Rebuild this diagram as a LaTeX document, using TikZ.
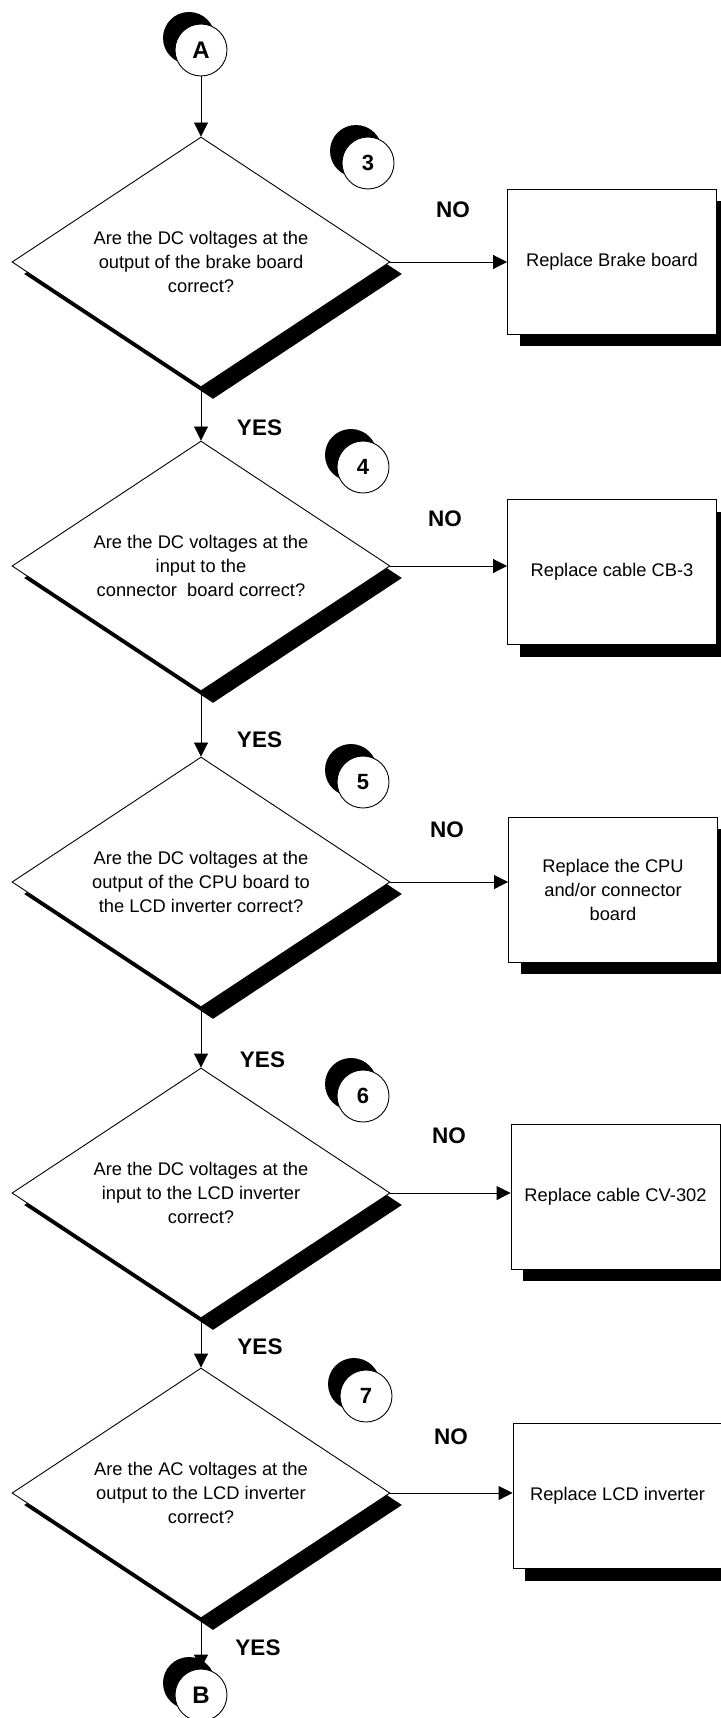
\documentclass[tikz,border=0pt]{standalone}
\usepackage{fontspec}
\setmainfont{Liberation Sans}
\usetikzlibrary{arrows.meta,shapes.geometric,shadows}

\begin{document}
\begin{tikzpicture}[
    x=1pt, y=-1pt,
    >={Triangle[length=14pt,width=14pt]},
    line width=0.9pt,
    font=\fontsize{18.3}{24}\selectfont,
    sombra/.style={drop shadow={shadow xshift=12pt, shadow yshift=-12pt,
                                fill=black, opacity=1}},
    decisao/.style={draw, shape=diamond, aspect=1.5, inner sep=0pt,
                    minimum width=378pt, minimum height=250pt,
                    align=center, fill=white, sombra},
    acao/.style={draw, rectangle, fill=white, align=center,
                 minimum width=209pt, minimum height=145pt, sombra},
    passo/.style={draw, circle, fill=white, inner sep=0pt, minimum size=52pt,
                  font=\fontsize{22}{22}\selectfont\bfseries,
                  drop shadow={shadow xshift=-12pt, shadow yshift=12pt,
                               fill=black, opacity=1}},
    conector/.style={passo, font=\fontsize{24}{24}\selectfont\bfseries},
    rotulo/.style={font=\fontsize{22.5}{22.5}\selectfont\bfseries}
  ]
  \useasboundingbox (0,0) rectangle (720,1718);

  % ── conectores de entrada e saída ───────────────────────────────
  \node[conector] (A) at (201, 50)   {A};
  \node[conector] (B) at (201, 1695) {B};

  % ── decisões ────────────────────────────────────────────────────
  \node[decisao] (D1) at (201, 262)
    {Are the DC voltages at the\\output of the brake board\\correct?};
  \node[decisao] (D2) at (201, 566)
    {Are the DC voltages at the\\input to the\\connector\ \ board correct?};
  \node[decisao] (D3) at (201, 882)
    {Are the DC voltages at the\\output of the CPU board to\\the LCD inverter correct?};
  \node[decisao] (D4) at (201, 1193)
    {Are the DC voltages at the\\input to the LCD inverter\\correct?};
  \node[decisao] (D5) at (201, 1493)
    {Are the AC voltages at the\\output to the LCD inverter\\correct?};

  % ── números dos passos ──────────────────────────────────────────
  \node[passo] (P3) at (368, 163)  {3};
  \node[passo] (P4) at (363, 467)  {4};
  \node[passo] (P5) at (363, 782)  {5};
  \node[passo] (P6) at (363, 1096) {6};
  \node[passo] (P7) at (366, 1396) {7};

  % ── ações de substituição ───────────────────────────────────────
  \node[acao] (R1) at (612, 261.5)   {Replace Brake board};
  \node[acao] (R2) at (612, 572)     {Replace cable CB-3};
  \node[acao] (R3) at (613, 889.5)   {Replace the CPU\\and/or connector\\board};
  \node[acao] (R4) at (615.5, 1196.5) {Replace cable CV-302};
  \node[acao] (R5) at (617.5, 1496)  {Replace LCD inverter};

  % ── rótulos ─────────────────────────────────────────────────────
  \node[rotulo] (N1) at (453, 210)  {NO};
  \node[rotulo] (N2) at (445, 519)  {NO};
  \node[rotulo] (N3) at (447, 830)  {NO};
  \node[rotulo] (N4) at (449, 1136) {NO};
  \node[rotulo] (N5) at (451, 1437) {NO};

  \node[rotulo] (Y2) at (259.5, 428) {YES};
  \node[rotulo] (Y3) at (259.5, 740) {YES};
  \node[rotulo] (Y4) at (262.5, 1060) {YES};
  \node[rotulo] (Y5) at (260, 1347) {YES};
  \node[rotulo] (Y6) at (258, 1648) {YES};

  % ── setas ───────────────────────────────────────────────────────
  \foreach \a/\b in {A/D1, D1/D2, D2/D3, D3/D4, D4/D5, D5/B}
    \draw[->] (\a) -- (\b);
  \foreach \i in {1,...,5}
    \draw[->] (D\i.east) -- (D\i.east -| R\i.west);

\end{tikzpicture}
\end{document}
